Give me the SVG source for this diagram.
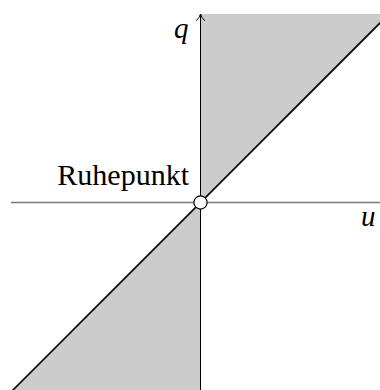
<svg xmlns="http://www.w3.org/2000/svg" width="380" height="390" viewBox="0 0 380 390">
<style>
.region{fill:#cccccc;stroke:none}
</style>
<rect width="380" height="390" fill="#fff"/>
<g id="regions">
<polygon class="region" points="200.5,202.5 200.5,14 389,14"/>
<polygon class="region" points="200.5,202.5 200.5,390 12,390"/>
</g>
<g id="connectors">
<line x1="11" y1="202.5" x2="380" y2="202.5" stroke="#7a7a7a" stroke-width="1.4"/>
<line x1="200.5" y1="390" x2="200.5" y2="14.5" stroke="#000" stroke-width="1"/>
<path d="M196.5,20.5 Q199.6,17.5 200.5,14 Q201.4,17.5 204.5,20.5" fill="none" stroke="#000" stroke-width="1" stroke-linecap="round"/>
<line x1="11" y1="392" x2="391" y2="12" stroke="#000" stroke-width="1.6"/>
</g>
<g id="ruhepunkt">
<circle cx="200.5" cy="202.5" r="6.6" fill="#fff" stroke="#000" stroke-width="1.2"/>
<text x="189" y="185" font-family="Liberation Serif, DejaVu Serif, serif" font-size="30" text-anchor="end">Ruhepunkt</text>
</g>
<g id="label-q"><text x="174" y="38" font-family="Liberation Serif, DejaVu Serif, serif" font-style="italic" font-size="29">q</text></g>
<g id="label-u"><text x="361" y="226" font-family="Liberation Serif, DejaVu Serif, serif" font-style="italic" font-size="29">u</text></g>
</svg>
